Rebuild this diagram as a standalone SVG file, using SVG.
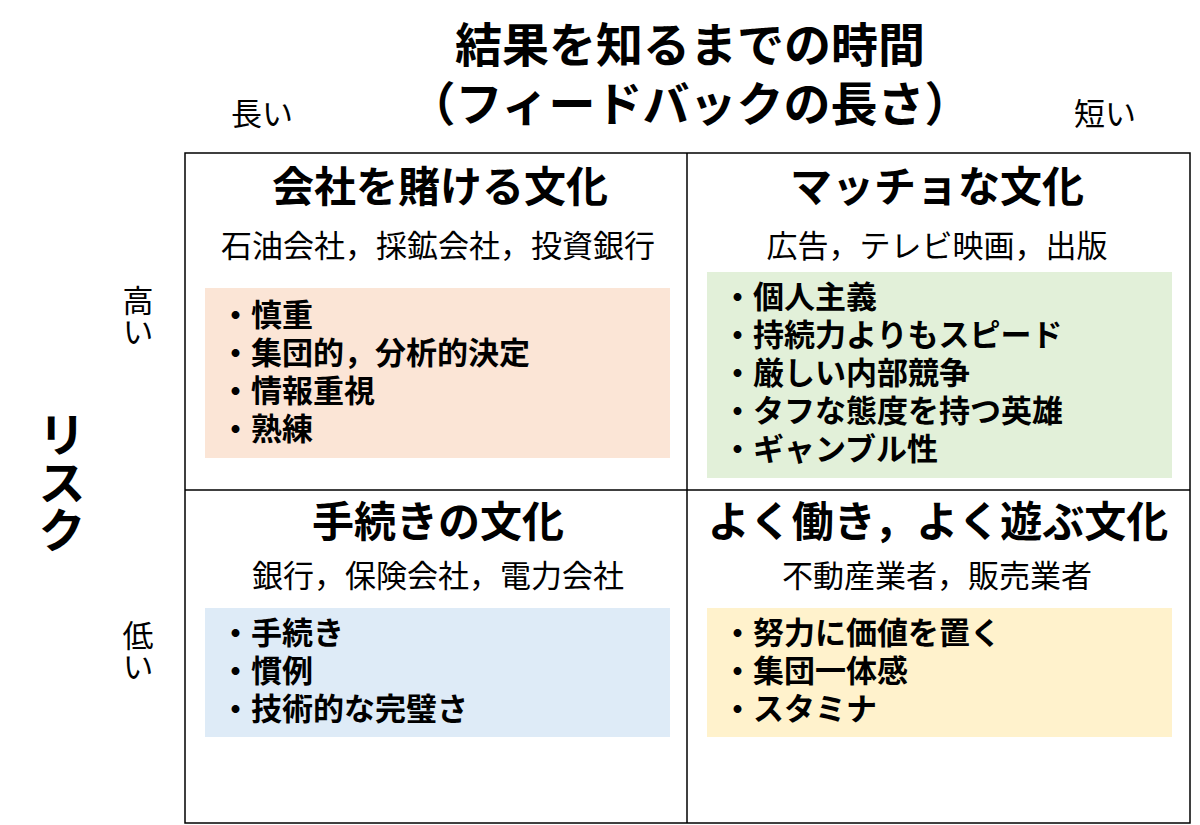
<svg xmlns="http://www.w3.org/2000/svg" width="1200" height="825" viewBox="0 0 1200 825">
<style>
text{font-family:"Noto Sans CJK JP","Noto Sans",sans-serif;fill:#000}
.t{font-size:47px;font-weight:bold;text-anchor:middle}
.q{font-size:42px;font-weight:bold;text-anchor:middle}
.s{font-size:31px;text-anchor:middle}
.l{font-size:31px;font-weight:bold}
.a{font-size:31px;text-anchor:middle}
.v{writing-mode:vertical-rl;text-anchor:start}
</style>
<rect width="1200" height="825" fill="#fff"/>
<text class="t" x="690" y="62">結果を知るまでの時間</text>
<text class="t" x="690" y="121">（フィードバックの長さ）</text>
<text class="a" x="262" y="125">長い</text>
<text class="a" x="1105" y="125">短い</text>
<text class="a v" x="138" y="285">高い</text>
<text class="a v" x="138" y="620">低い</text>
<text class="v" style="font-size:48px;font-weight:bold" x="62" y="410">リスク</text>
<g id="connectors" stroke="#000" stroke-width="1.5" fill="none">
<rect x="185" y="153" width="1005" height="670"/>
<line x1="687" y1="153" x2="687" y2="823"/>
<line x1="185" y1="490" x2="1190" y2="490"/>
</g>
<g id="tl">
<text class="q" x="440" y="202">会社を賭ける文化</text>
<text class="s" x="438" y="257">石油会社，採鉱会社，投資銀行</text>
<rect x="205" y="288" width="465" height="170" fill="#fbe5d6"/>
<text class="l" x="220" y="326">・慎重</text>
<text class="l" x="220" y="364">・集団的，分析的決定</text>
<text class="l" x="220" y="402">・情報重視</text>
<text class="l" x="220" y="440">・熟練</text>
</g>
<g id="tr">
<text class="q" x="937" y="202">マッチョな文化</text>
<text class="s" x="937" y="257">広告，テレビ映画，出版</text>
<rect x="707" y="272" width="465" height="206" fill="#e2f0d9"/>
<text class="l" x="722" y="308">・個人主義</text>
<text class="l" x="722" y="346">・持続力よりもスピード</text>
<text class="l" x="722" y="384">・厳しい内部競争</text>
<text class="l" x="722" y="422">・タフな態度を持つ英雄</text>
<text class="l" x="722" y="460">・ギャンブル性</text>
</g>
<g id="bl">
<text class="q" x="438" y="537">手続きの文化</text>
<text class="s" x="438" y="587">銀行，保険会社，電力会社</text>
<rect x="205" y="608" width="465" height="129" fill="#deebf7"/>
<text class="l" x="220" y="644">・手続き</text>
<text class="l" x="220" y="682">・慣例</text>
<text class="l" x="220" y="720">・技術的な完璧さ</text>
</g>
<g id="br">
<text class="q" x="938" y="537">よく働き，よく遊ぶ文化</text>
<text class="s" x="937" y="587">不動産業者，販売業者</text>
<rect x="707" y="608" width="465" height="129" fill="#fff2cc"/>
<text class="l" x="722" y="644">・努力に価値を置く</text>
<text class="l" x="722" y="682">・集団一体感</text>
<text class="l" x="722" y="720">・スタミナ</text>
</g>
</svg>
